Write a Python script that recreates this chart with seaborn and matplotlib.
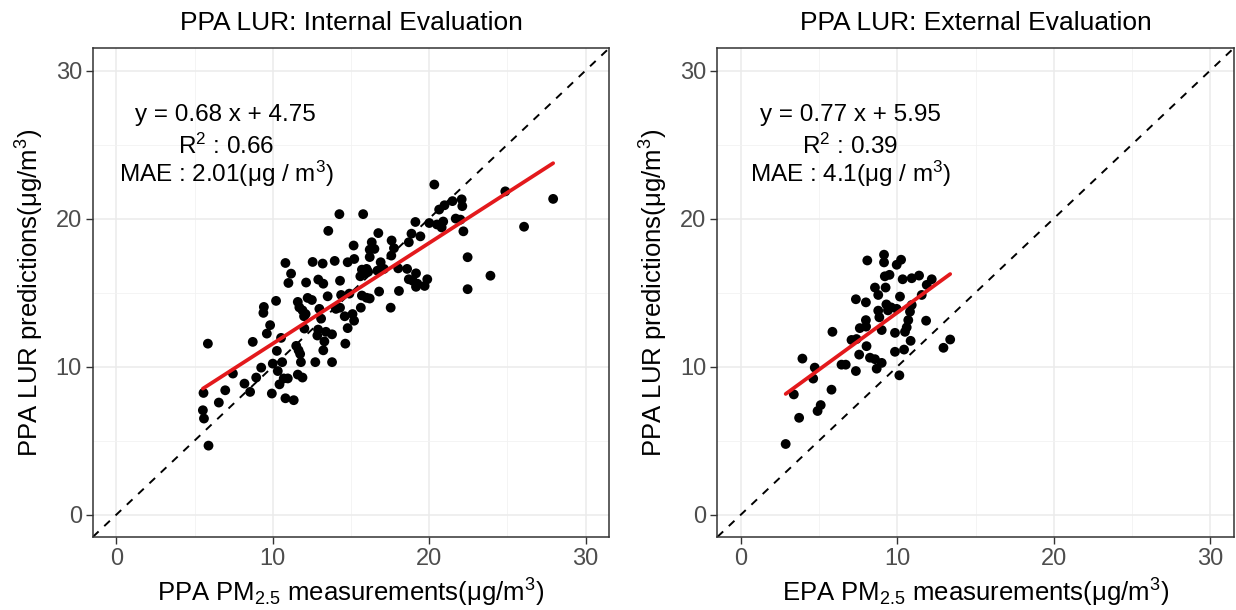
import numpy as np
import pandas as pd
import matplotlib
matplotlib.use("Agg")
import matplotlib.pyplot as plt
import seaborn as sns

# ---------------- data ----------------
internal_measured = [
    13.55, 10.81, 12.55, 13.19, 13.96, 11.17, 11.0, 12.13, 12.91, 13.23,
    10.21, 9.43, 9.4, 11.6, 12.23, 12.5, 13.51, 11.7, 11.9, 12.1,
    12.0, 12.98, 14.04, 9.83, 9.62, 10.53, 12.02, 13.09, 12.9, 13.4,
    12.85, 13.79, 13.3, 5.85, 8.72, 11.5, 11.65, 11.75, 11.8, 10.26,
    13.23, 12.72, 13.79, 10.0, 10.6, 9.26, 7.45, 10.32, 8.94, 10.7,
    10.96, 11.6, 11.9, 10.43, 8.19, 6.96, 5.57, 8.55, 9.94, 6.55,
    10.81, 11.34, 5.53, 5.6, 5.89, 14.3,
    20.33, 24.87, 26.07, 14.26, 15.78, 22.08, 21.49, 20.98, 20.64, 22.12,
    21.7, 22.0, 22.19, 19.12, 20.01, 20.9, 20.8, 20.5, 19.44, 18.87,
    16.75, 15.17, 16.33, 17.6, 16.2, 16.5, 16.2, 17.75, 18.7, 17.58,
    14.79, 15.21, 16.9, 22.46, 15.7, 16.0, 15.9, 15.6, 16.1, 16.69,
    17.11, 18.02, 18.59, 19.16, 18.7, 18.95, 19.25, 19.88, 19.71, 19.16,
    23.92, 22.46, 14.9, 15.7, 16.0, 16.2, 16.8, 18.07, 14.37, 14.3,
    14.6, 15.1, 15.2, 15.63, 17.54, 14.79, 14.64, 27.93,
]
internal_predicted = [
    19.17, 17.0, 17.07, 16.96, 17.14, 16.28, 15.65, 15.68, 15.88, 15.6,
    14.44, 14.03, 13.63, 14.37, 14.64, 14.5, 14.75, 14.0, 13.8, 13.55,
    13.4, 13.9, 13.9, 12.8, 12.23, 11.94, 12.57, 13.24, 12.5, 12.35,
    12.1, 12.18, 11.7, 11.55, 11.67, 11.4, 11.1, 10.85, 10.3, 11.06,
    11.1, 10.3, 10.3, 10.2, 10.3, 9.93, 9.53, 9.7, 9.26, 9.2,
    9.2, 9.46, 9.26, 8.8, 8.85, 8.4, 8.22, 8.29, 8.18, 7.57,
    7.86, 7.73, 7.05, 6.49, 4.66, 15.8,
    22.3, 21.84, 19.45, 20.3, 20.3, 21.3, 21.18, 20.9, 20.61, 20.84,
    20.0, 19.93, 19.14, 19.77, 19.7, 19.8, 19.4, 19.6, 18.8, 18.98,
    19.02, 18.18, 18.4, 18.52, 17.9, 17.95, 17.4, 18.0, 18.4, 17.5,
    17.05, 17.27, 17.05, 17.39, 16.55, 16.6, 16.3, 16.1, 16.4, 16.48,
    16.6, 16.64, 16.6, 16.3, 15.9, 15.8, 15.6, 15.9, 15.45, 15.39,
    16.14, 15.23, 14.93, 14.8, 14.65, 14.6, 15.07, 15.11, 14.84, 13.98,
    13.4, 13.55, 13.1, 13.98, 13.98, 12.6, 11.55, 21.33,
]
external_measured = [
    9.15, 9.15, 8.08, 10.24, 9.96, 9.2, 9.5, 10.34, 10.92, 11.39,
    12.2, 11.88, 8.57, 9.25, 8.78, 7.35, 7.99, 10.17, 11.56, 9.3,
    9.6, 9.4, 9.96, 10.92, 8.78, 10.81, 8.85, 10.7, 7.99, 11.84,
    7.6, 8.0, 9.0, 9.85, 10.49, 10.6, 5.85, 7.07, 7.39, 10.85,
    13.38, 12.95, 8.03, 9.85, 10.43, 7.56, 8.25, 8.57, 9.0, 8.68,
    7.35, 6.43, 6.7, 10.13, 3.93, 4.72, 4.62, 5.79, 3.38, 5.1,
    4.9, 3.72, 2.86,
]
external_predicted = [
    17.56, 17.04, 17.17, 17.22, 16.88, 16.1, 16.2, 15.9, 15.97, 16.15,
    15.9, 15.52, 15.34, 15.34, 14.84, 14.55, 14.34, 14.73, 14.84, 14.2,
    14.0, 13.8, 13.9, 14.16, 13.78, 13.71, 13.33, 13.14, 13.14, 13.1,
    12.6, 12.7, 12.47, 12.28, 12.35, 12.65, 12.35, 11.8, 11.86, 11.74,
    11.83, 11.27, 11.38, 11.0, 11.15, 10.81, 10.6, 10.5, 10.25, 9.86,
    9.7, 10.13, 10.13, 9.41, 10.54, 9.93, 9.19, 8.44, 8.12, 7.4,
    7.0, 6.54, 4.77,
]

panel_titles = ["PPA LUR: Internal Evaluation", "PPA LUR: External Evaluation"]
x_labels = [r"PPA PM$_{2.5}$ measurements(μg/m$^3$)",
            r"EPA PM$_{2.5}$ measurements(μg/m$^3$)"]
y_label = r"PPA LUR predictions(μg/m$^3$)"
slopes = [0.68, 0.77]
intercepts = [4.75, 5.95]
r2_values = ["0.66", "0.39"]
mae_values = ["2.01", "4.1"]
tick_values = [0, 10, 20, 30]

# ---------------- style ----------------
sns.set_theme(style="white")
plt.rcParams["font.family"] = ["Liberation Sans", "DejaVu Sans"]
plt.rcParams["mathtext.default"] = "regular"

fig = plt.figure(figsize=(12.36, 6.10), dpi=100)
ax_w = 0.4175
ax_h = 0.8007
axes = [fig.add_axes([0.0752, 0.12, ax_w, ax_h]),
        fig.add_axes([0.5805, 0.12, ax_w, ax_h])]

datasets = [(internal_measured, internal_predicted),
            (external_measured, external_predicted)]

for i, ax in enumerate(axes):
    mx, pr = datasets[i]
    df = pd.DataFrame({"measured": mx, "predicted": pr})

    ax.set_xlim(-1.5, 31.5)
    ax.set_ylim(-1.5, 31.5)

    # grid (theme_bw-like)
    ax.set_xticks(tick_values)
    ax.set_yticks(tick_values)
    ax.set_xticks([5, 15, 25], minor=True)
    ax.set_yticks([5, 15, 25], minor=True)
    ax.grid(which="major", color="#EBEBEB", lw=1.1, zorder=0)
    ax.grid(which="minor", color="#F2F2F2", lw=0.6, zorder=0)
    ax.set_axisbelow(True)

    # 1:1 dashed line
    ax.axline((0, 0), slope=1, color="black", lw=1.4,
              linestyle=(0, (4, 4)), zorder=1)

    sns.scatterplot(data=df, x="measured", y="predicted", ax=ax,
                    color="black", s=50, edgecolor="none", zorder=3)

    # fitted regression line
    xs = np.array([min(mx), max(mx)])
    fit = pd.DataFrame({"x": xs, "y": slopes[i] * xs + intercepts[i]})
    sns.lineplot(data=fit, x="x", y="y", ax=ax, color="#E3191C", lw=2.7,
                 zorder=4)

    # annotations
    ax.text(7, 27.0, f"y = {slopes[i]:.2f} x + {intercepts[i]:.2f}",
            ha="center", va="center", fontsize=17.5, color="black")
    ax.text(7, 24.85, r"R$^{2}$ : " + r2_values[i],
            ha="center", va="center", fontsize=17.5, color="black")
    ax.text(7, 23.0, "MAE : " + mae_values[i] + r"(μg / m$^{3}$)",
            ha="center", va="center", fontsize=17.5, color="black")

    ax.set_title(panel_titles[i], fontsize=19, pad=13, color="black")
    ax.set_xlabel(x_labels[i], fontsize=18.5, color="black", labelpad=5)
    ax.set_ylabel(y_label, fontsize=18.5, color="black", labelpad=7)

    ax.tick_params(axis="both", which="major", length=5, width=1,
                   color="#333333", labelsize=17, labelcolor="#4D4D4D",
                   bottom=True, left=True, pad=3)
    ax.tick_params(axis="both", which="minor", length=0)
    for sp in ax.spines.values():
        sp.set_color("#333333")
        sp.set_linewidth(1.1)

fig.savefig("out.png", dpi=100)
